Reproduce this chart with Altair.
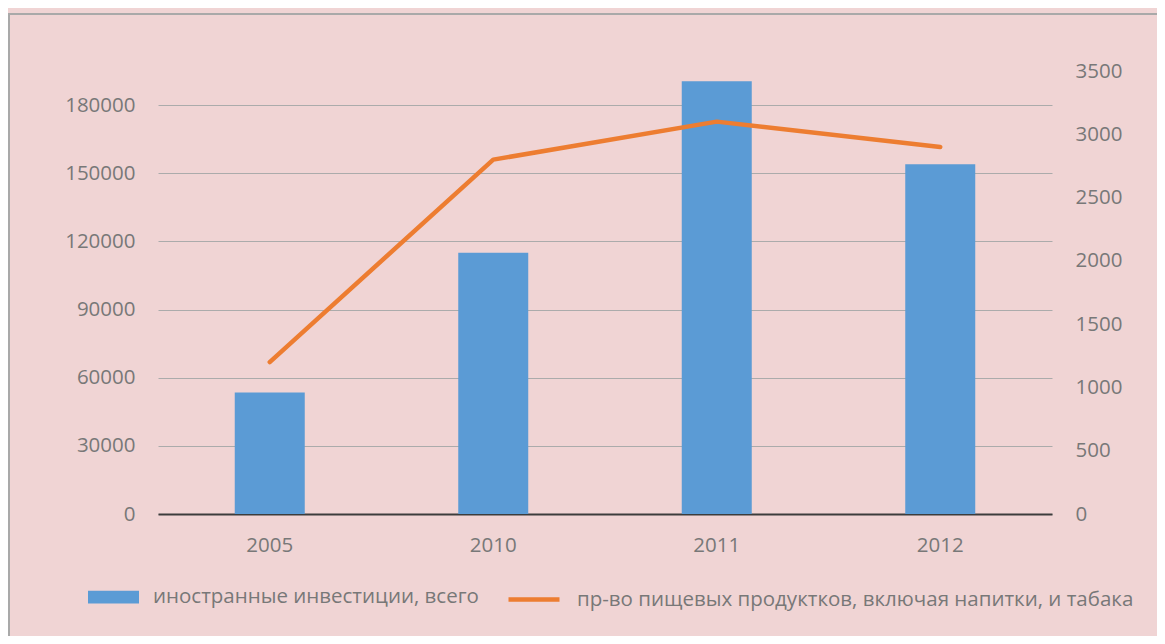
import altair as alt
import pandas as pd

years = ["2005", "2010", "2011", "2012"]
invest = [53500, 115000, 190500, 154000]
food = [1200, 2800, 3100, 2900]
name_bar = "иностранные инвестиции, всего"
name_line = "пр-во пищевых продуктков, включая напитки, и табака"

df = pd.DataFrame({
    "year": years,
    "invest": invest,
    "food": food,
    "s_bar": [name_bar] * len(years),
    "s_line": [name_line] * len(years),
})

FONT = "Open Sans"
FS = 20.5
TXT = "#787878"
BG = "#F0D4D4"

W, H = 894, 443

x = alt.X("year:N", title=None, sort=years,
          scale=alt.Scale(paddingInner=0.6868, paddingOuter=0.3434),
          axis=alt.Axis(labelAngle=0, ticks=False, domainColor="#3C3C3C",
                        domainWidth=2, labelPadding=21, grid=False))

bars = alt.Chart(df).mark_bar().encode(
    x=x,
    y=alt.Y("invest:Q", title=None,
            scale=alt.Scale(domain=[0, 195000], nice=False),
            axis=alt.Axis(orient="left", values=[0, 30000, 60000, 90000, 120000, 150000, 180000],
                          format="d", domain=False, ticks=False, labelPadding=23,
                          grid=True, gridColor="#ABABAB", gridWidth=1.2)),
    fill=alt.Fill("s_bar:N", scale=alt.Scale(domain=[name_bar], range=["#5B9BD5"]),
                  legend=alt.Legend(title=None, orient="none", legendX=-70, legendY=500.5,
                                    symbolType="M-1,-0.25H1V0.25H-1Z", symbolSize=2601,
                                    symbolStrokeWidth=0, labelOffset=14, labelLimit=0,
                                    padding=0)),
)

line = alt.Chart(df).mark_line(strokeWidth=4.5, strokeCap="round", strokeJoin="round").encode(
    x=x,
    y=alt.Y("food:Q", title=None,
            scale=alt.Scale(domain=[0, 3500], nice=False),
            axis=alt.Axis(orient="right", values=[0, 500, 1000, 1500, 2000, 2500, 3000, 3500],
                          format="d", domain=False, ticks=False, labelPadding=23, grid=False)),
    stroke=alt.Stroke("s_line:N", scale=alt.Scale(domain=[name_line], range=["#ED7D31"]),
                      legend=alt.Legend(title=None, orient="none", legendX=348, legendY=500.5,
                                        symbolType="stroke", symbolSize=2601,
                                        symbolStrokeWidth=4.5, labelOffset=15, labelLimit=0,
                                        padding=0)),
)

border = alt.Chart(pd.DataFrame({"b": [0]})).mark_rect(
    fill="transparent", stroke="#A9A9A9", strokeWidth=2
).encode(
    x=alt.value(-149), x2=alt.value(1200), y=alt.value(-57), y2=alt.value(700)
)

chart = alt.layer(border, bars, line).resolve_scale(
    y="independent", fill="independent", stroke="independent"
).properties(
    width=W, height=H,
    background=BG,
    padding={"left": 150, "top": 63, "right": 105, "bottom": 122},
    autosize=alt.AutoSizeParams(type="none"),
).configure_view(
    stroke=None
).configure_axis(
    labelFont=FONT, labelFontSize=FS, labelColor=TXT
).configure_legend(
    labelFont=FONT, labelFontSize=FS, labelColor=TXT
)

chart.save("out.html", embed_options={"renderer": "svg", "actions": False})
